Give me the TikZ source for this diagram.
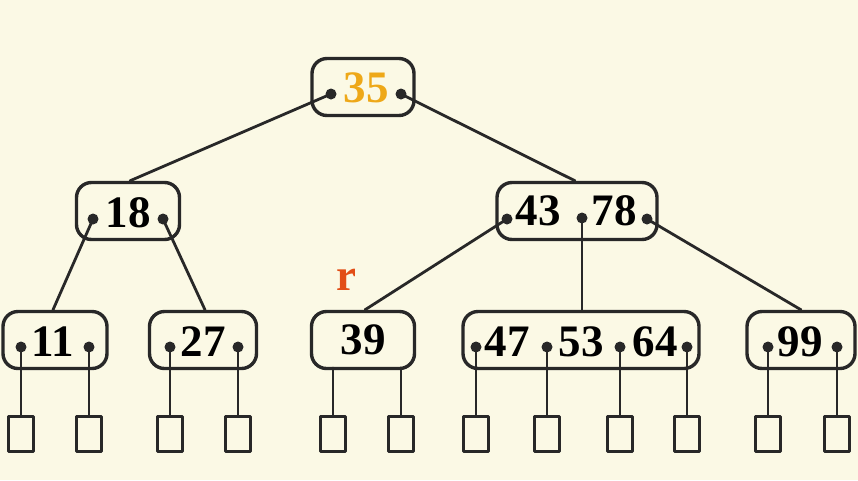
\documentclass[tikz,border=0pt]{standalone}
\usepackage{fontspec}
\setmainfont{Liberation Serif}
\definecolor{bgcream}{RGB}{251,249,229}
\definecolor{boxgray}{RGB}{40,40,40}
\definecolor{rootgold}{RGB}{238,168,24}
\definecolor{rred}{RGB}{226,78,22}
\newcommand{\keyfont}{\fontsize{45}{45}\selectfont\bfseries}
\begin{document}
\begin{tikzpicture}[x=1pt,y=-1pt, line join=round, line cap=round,
    bbox/.style={draw=boxgray, line width=3.4pt, rounded corners=15pt, inner sep=0pt, minimum height=57pt},
    key/.style={font=\keyfont, inner sep=0pt},
    leaf/.style={draw=boxgray, line width=2.8pt, minimum width=25pt, minimum height=35pt, inner sep=0pt},
    link/.style={draw=boxgray, line width=2.8pt}]
    \fill[bgcream] (0,0) rectangle (858,480);
    \useasboundingbox (0,0) rectangle (858,480);
    % boxes of the tree
    \foreach \n/\cx/\cy/\w in {n35/363/87/102, n18/128/211/103, n4378/577/211/160,
        n11/55/340/104, n27/203/340/107, n39/363/340/103, n475364/581/340/236, n99/801/340/108}
        \node[bbox, minimum width=\w pt] (\n) at (\cx,\cy) {};
    % keys
    \node[key, text=rootgold] (k35) at (366,88) {35};
    \foreach \n/\x/\y in {18/128/213, 43/538/211, 78/614/211, 11/53/342, 27/203/342,
        39/363/340, 47/507/342, 53/581/342, 64/655/342, 99/800/342}
        \node[key] (k\n) at (\x,\y) {\n};
    \node[key, text=rred] (rlab) at (346,280) {r};
    % pointer dots
    \foreach \n/\x/\y in {d35a/331/94, d35b/401/94, d18a/93/219, d18b/163/219,
        d43a/507/219, d43b/582/218, d43c/647/219,
        d11a/21/347, d11b/89/347, d27a/170/347, d27b/238/347,
        d47a/476/347, d47b/547/347, d47c/620/347, d47d/687/347, d99a/768/347, d99b/837/347}
        {\coordinate (\n) at (\x,\y); \fill[boxgray] (\n) circle (5.5pt);}
    \coordinate (d39a) at (333,368);
    \coordinate (d39b) at (401,368);
    % links between levels
    \draw[link] (d35a) -- ([xshift=2pt]n18.north);
    \draw[link] (d35b) -- ([xshift=-2pt]n4378.north);
    \draw[link] (d18a) -- ([xshift=-2pt]n11.north);
    \draw[link] (d18b) -- ([xshift=2pt]n27.north);
    \draw[link] (d43a) -- ([xshift=2pt]n39.north);
    \draw[link] (d43b) -- (d43b |- n475364.north);
    \draw[link] (d43c) -- (n99.north);
    % empty subtrees
    \foreach \d [count=\i] in {d11a, d11b, d27a, d27b, d39a, d39b, d47a, d47b, d47c, d47d, d99a, d99b}
        {\node[leaf, anchor=north] (l\i) at (\d |- 0,415) {};
         \draw[link] (\d) -- (l\i.north);}
\end{tikzpicture}
\end{document}
